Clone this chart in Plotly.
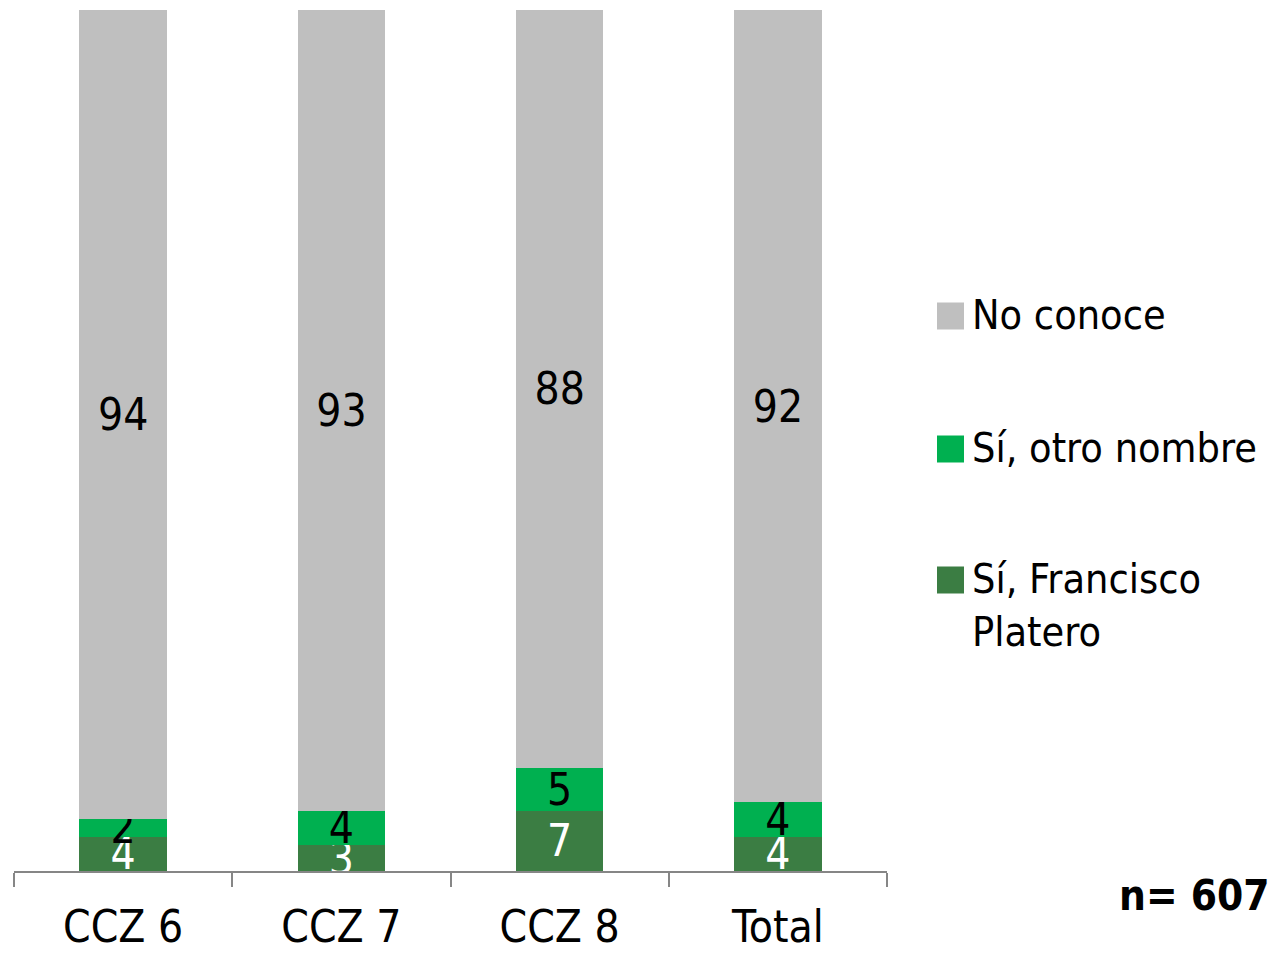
import plotly.graph_objects as go

categories = ["CCZ 6", "CCZ 7", "CCZ 8", "Total"]
series_names = ["Sí, Francisco Platero", "Sí, otro nombre", "No conoce"]
legend_labels = ["Sí, Francisco<br>Platero", "Sí, otro nombre", "No conoce"]
francisco = [4, 3, 7, 4]
otro = [2, 4, 5, 4]
no_conoce = [94, 93, 88, 92]
colors = ["#3B7D43", "#00B050", "#BFBFBF"]
text_colors = ["white", "black", "black"]
n_note = "n= 607"

FONT = "Liberation Sans Narrow, DejaVu Sans Condensed, sans-serif"

OFF = 8  # page body margin
W, H = 1282 - OFF, 953 - OFF
L, T = 14 - OFF, 10 - OFF
R = W - (887 - OFF)
B = H - (871 - OFF)
pw, ph = W - L - R, H - T - B

def px(x):
    return (x - OFF - L) / pw

def py(y):
    return (H - B - (y - OFF)) / ph

fig = go.Figure()
for name, vals, col, tcol in zip(series_names, [francisco, otro, no_conoce], colors, text_colors):
    fig.add_trace(go.Bar(
        x=categories, y=vals, name=name, marker=dict(color=col, line=dict(width=0)),
        width=0.4, text=[str(v) for v in vals], textposition="inside", textangle=0,
        insidetextanchor="middle", constraintext="none",
        textfont=dict(family=FONT, size=44, color=tcol),
        showlegend=False, cliponaxis=False,
    ))

# manual legend (large swatches)
legend_y = [580, 449, 316]  # pixel centers of swatches
for lab, col, yy in zip(legend_labels, colors, legend_y):
    fig.add_shape(type="rect", xref="paper", yref="paper",
                  x0=px(937), x1=px(964), y0=py(yy + 13.5), y1=py(yy - 13.5),
                  fillcolor=col, line=dict(width=0))
    fig.add_annotation(xref="paper", yref="paper", x=px(970), y=py(yy - 27),
                       xanchor="left", yanchor="top", align="left", showarrow=False,
                       text=lab, font=dict(family=FONT, size=41, color="black"))

fig.add_annotation(xref="paper", yref="paper", x=px(1272), y=py(895),
                   xanchor="right", yanchor="middle", showarrow=False,
                   text="<b>" + n_note + "</b>",
                   font=dict(family=FONT, size=42, color="black"))

fig.update_layout(
    barmode="stack", width=W, height=H,
    margin=dict(l=L, r=R, t=T, b=B, autoexpand=False),
    paper_bgcolor="white", plot_bgcolor="white",
    font=dict(family=FONT, size=44, color="black"),
)
fig.update_xaxes(
    type="category", range=[-0.5, 3.5], tickson="boundaries",
    ticks="outside", ticklen=14, tickcolor="#868686", tickwidth=2,
    showline=True, linecolor="#868686", linewidth=2,
    showgrid=False, ticklabelstandoff=16,
    tickfont=dict(family=FONT, size=44, color="black"),
)
fig.update_yaxes(range=[0, 100], visible=False, showgrid=False)

fig.write_html("out.html")
